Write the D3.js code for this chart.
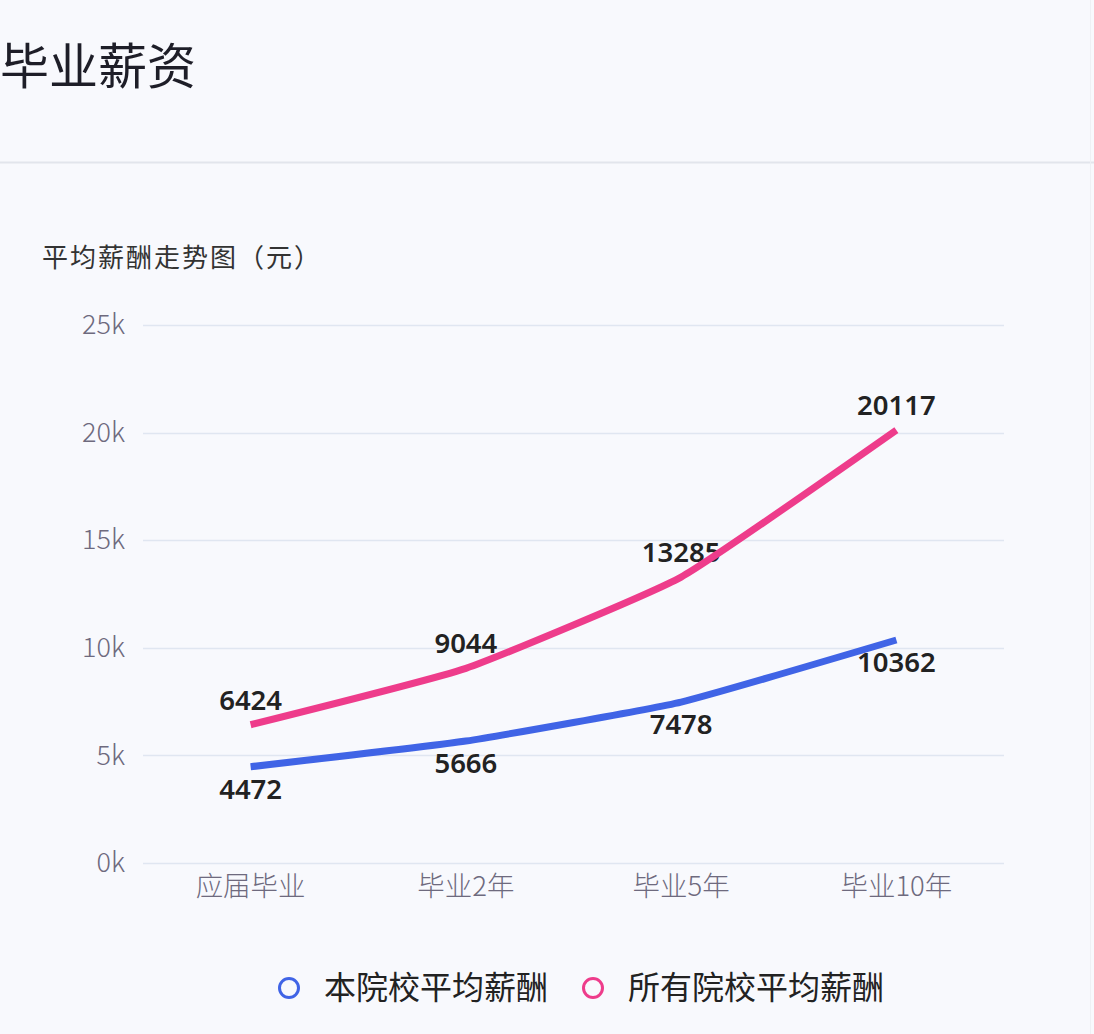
<!DOCTYPE html>
<html><head><meta charset="utf-8">
<script src="https://cdn.jsdelivr.net/npm/d3@7"></script>
<style>
html,body{margin:0;padding:0;background:#f8f9fd;}
svg{display:block;}
</style></head>
<body>
<svg id="chart" width="1094" height="1034"></svg>
<script>
const categories = ["应届毕业","毕业2年","毕业5年","毕业10年"];
const seriesNames = ["本院校平均薪酬","所有院校平均薪酬"];
const schoolValues = [4472,5666,7478,10362];
const allValues = [6424,9044,13285,20117];
const yTicks = [0,5000,10000,15000,20000,25000];
const yTickLabels = ["0k","5k","10k","15k","20k","25k"];
const colors = ["#4064e6","#ee3c8b"];

const svg = d3.select("#chart");
const W = 1094, H = 1034;
const FONT = "'Noto Sans CJK SC','Noto Sans',sans-serif";

svg.append("rect").attr("width",W).attr("height",H).attr("fill","#f8f9fd");
svg.append("line").attr("x1",0).attr("x2",W).attr("y1",162.5).attr("y2",162.5)
  .attr("stroke","#e2e5ec").attr("stroke-width",2);
svg.append("line").attr("x1",1090.5).attr("x2",1090.5).attr("y1",0).attr("y2",H)
  .attr("stroke","#eef0f4").attr("stroke-width",1);

svg.append("text").attr("x",0).attr("y",84).attr("font-family",FONT)
  .attr("font-size",49).attr("fill","#1e1e28").text("毕业薪资");

svg.append("text").attr("x",42).attr("y",267).attr("font-family",FONT)
  .attr("font-size",26).attr("letter-spacing",2).attr("fill","#333").text("平均薪酬走势图（元）");

const plot = {left:143,right:1004,top:325,bottom:863};
const x = d3.scaleBand().domain(categories).range([plot.left,plot.right]);
const y = d3.scaleLinear().domain([0,25000]).range([plot.bottom,plot.top]);

// grid
svg.append("g").selectAll("line").data(yTicks).join("line")
  .attr("x1",plot.left).attr("x2",plot.right)
  .attr("y1",d=>Math.round(y(d))+0.5).attr("y2",d=>Math.round(y(d))+0.5)
  .attr("stroke","#e0e6f1").attr("stroke-width",1.5);

// y axis labels
const yAxis = d3.axisLeft(y).tickValues(yTicks).tickFormat((d,i)=>yTickLabels[i]).tickSize(0).tickPadding(18);
const gy = svg.append("g").attr("transform",`translate(${plot.left},0)`).call(yAxis);
gy.select(".domain").remove();
gy.selectAll("text").attr("font-family",FONT).attr("font-size",27).attr("fill","#6e6a7e").attr("font-weight",300);

// x axis labels
const xAxis = d3.axisBottom(x).tickSize(0).tickPadding(13);
const gx = svg.append("g").attr("transform",`translate(0,${plot.bottom})`).call(xAxis);
gx.select(".domain").remove();
gx.selectAll("text").attr("font-family",FONT).attr("font-size",27.5).attr("fill","#6e6a7e").attr("font-weight",300);

const cx = d => x(d) + x.bandwidth()/2;
const line = d3.line().x(d=>cx(d.c)).y(d=>y(d.v)).curve(d3.curveCardinal.tension(0.6));

const series = [schoolValues, allValues];

// labels first (lines drawn above)
series.forEach((vals,si)=>{
  svg.append("g").selectAll("text").data(vals).join("text")
    .attr("x",(d,i)=>cx(categories[i]))
    .attr("y",d=> si===0 ? y(d)+32 : y(d)-15)
    .attr("text-anchor","middle")
    .attr("font-family","'Noto Sans',sans-serif").attr("font-size",27.5).attr("font-weight",600)
    .attr("fill","#222").text(d=>d);
});

series.forEach((vals,si)=>{
  svg.append("path").datum(vals.map((v,i)=>({c:categories[i],v})))
    .attr("d",line).attr("fill","none").attr("stroke",colors[si])
    .attr("stroke-width",7).attr("stroke-linejoin","round").attr("stroke-linecap","butt");
});

// legend
const legend = [{x:289,tx:324},{x:593,tx:628}];
seriesNames.forEach((n,i)=>{
  svg.append("circle").attr("cx",legend[i].x).attr("cy",988).attr("r",9.5)
    .attr("fill","none").attr("stroke",colors[i]).attr("stroke-width",3);
  svg.append("text").attr("x",legend[i].tx).attr("y",999).attr("font-family",FONT)
    .attr("font-size",32).attr("fill","#222").text(n);
});
</script>
</body></html>
